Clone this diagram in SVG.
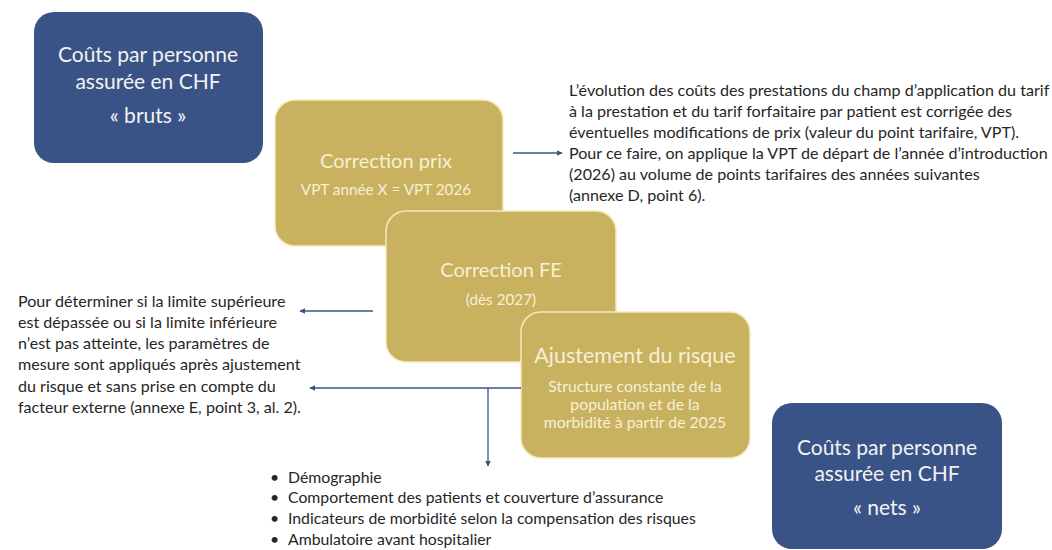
<svg xmlns="http://www.w3.org/2000/svg" width="1052" height="550" viewBox="0 0 1052 550">
<defs>
<marker id="ah" viewBox="0 0 10 10" refX="9" refY="5" markerWidth="6" markerHeight="6" orient="auto" markerUnits="userSpaceOnUse">
<path d="M0,0 L10,5 L0,10 z" fill="#3A5386"/>
</marker>
<style>
.blue{fill:#3A5386;}
.gold{fill:#C9B25F;stroke:#F6E9BC;stroke-width:1.5;}
.bt{font-family:Lato,"Liberation Sans",sans-serif;fill:#F2F2F2;text-anchor:middle;font-size:21px;}
.gt{font-family:Lato,"Liberation Sans",sans-serif;fill:#F7EFD6;text-anchor:middle;}
.t{font-family:Lato,"Liberation Sans",sans-serif;fill:#262626;font-size:16.1px;}
.b{font-family:Lato,"Liberation Sans",sans-serif;fill:#262626;font-size:15.8px;}
.c{stroke:#3A5386;stroke-width:1.3;fill:none;}
</style>
</defs>
<rect width="1052" height="550" fill="#FFFFFF"/>
<g id="bruts">
<rect class="blue" x="34" y="12" width="229" height="151" rx="20"/>
<text class="bt" x="148" y="62">Coûts par personne</text>
<text class="bt" x="148" y="89">assurée en CHF</text>
<text class="bt" x="148" y="123">« bruts »</text>
</g>
<g id="correction-prix">
<rect class="gold" x="275" y="100" width="228" height="146" rx="20"/>
<text class="gt" x="386" y="168" font-size="20">Correction prix</text>
<text class="gt" x="386" y="195" font-size="15.3">VPT année X = VPT 2026</text>
</g>
<g id="correction-fe">
<rect class="gold" x="386" y="211" width="230" height="151" rx="20"/>
<text class="gt" x="501" y="277" font-size="20">Correction FE</text>
<text class="gt" x="501" y="305" font-size="15.3">(dès 2027)</text>
</g>
<g id="ajustement">
<rect class="gold" x="521" y="312" width="229" height="146" rx="20"/>
<text class="gt" x="635" y="363" font-size="21.5">Ajustement du risque</text>
<text class="gt" x="635" y="392" font-size="15.8">Structure constante de la</text>
<text class="gt" x="635" y="410" font-size="15.8">population et de la</text>
<text class="gt" x="635" y="428" font-size="15.8">morbidité à partir de 2025</text>
</g>
<g id="nets">
<rect class="blue" x="772" y="403" width="230" height="146" rx="20"/>
<text class="bt" x="887" y="455">Coûts par personne</text>
<text class="bt" x="887" y="481">assurée en CHF</text>
<text class="bt" x="887" y="515">« nets »</text>
</g>
<g id="note-prix">
<text class="t" x="569" y="96">L’évolution des coûts des prestations du champ d’application du tarif</text>
<text class="t" x="569" y="117">à la prestation et du tarif forfaitaire par patient est corrigée des</text>
<text class="t" x="569" y="138">éventuelles modifications de prix (valeur du point tarifaire, VPT).</text>
<text class="t" x="569" y="159">Pour ce faire, on applique la VPT de départ de l’année d’introduction</text>
<text class="t" x="569" y="180">(2026) au volume de points tarifaires des années suivantes</text>
<text class="t" x="569" y="201">(annexe D, point 6).</text>
</g>
<g id="note-limites">
<text class="t" x="18" y="307">Pour déterminer si la limite supérieure</text>
<text class="t" x="18" y="328">est dépassée ou si la limite inférieure</text>
<text class="t" x="18" y="349">n’est pas atteinte, les paramètres de</text>
<text class="t" x="18" y="370">mesure sont appliqués après ajustement</text>
<text class="t" x="18" y="392">du risque et sans prise en compte du</text>
<text class="t" x="18" y="413">facteur externe (annexe E, point 3, al. 2).</text>
</g>
<g id="facteurs">
<text class="b" x="270" y="483">•</text><text class="b" x="288" y="483">Démographie</text>
<text class="b" x="270" y="503">•</text><text class="b" x="288" y="503">Comportement des patients et couverture d’assurance</text>
<text class="b" x="270" y="524">•</text><text class="b" x="288" y="524">Indicateurs de morbidité selon la compensation des risques</text>
<text class="b" x="270" y="545">•</text><text class="b" x="288" y="545">Ambulatoire avant hospitalier</text>
</g>
<g id="connectors">
<line class="c" x1="513" y1="153" x2="562" y2="153" marker-end="url(#ah)"/>
<line class="c" x1="373" y1="311" x2="300" y2="311" marker-end="url(#ah)"/>
<line class="c" x1="521" y1="388" x2="310" y2="388" marker-end="url(#ah)"/>
<line class="c" x1="488" y1="388" x2="488" y2="466" marker-end="url(#ah)"/>
</g>
</svg>
